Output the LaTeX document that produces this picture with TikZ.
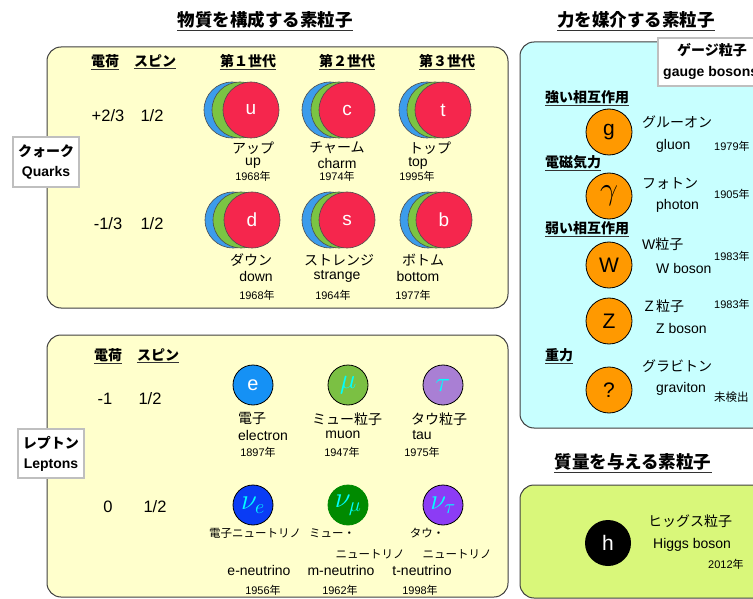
\RequirePackage{fix-cm}
\documentclass[tikz,border=0pt]{standalone}
\usepackage{fontspec}
\setmainfont{Liberation Sans}
\newfontfamily\jpf{Noto Sans CJK JP}
\newcommand\J[1]{{\jpf #1}}
\newcommand\nen{{\jpf 年}}
\definecolor{qfill}{HTML}{FFFFCC}
\definecolor{cfill}{HTML}{C8FFFF}
\definecolor{hfill}{HTML}{D9F77A}
\definecolor{qblue}{HTML}{3C9CEB}
\definecolor{qgreen}{HTML}{7BC443}
\definecolor{qred}{HTML}{F5264D}
\definecolor{orng}{HTML}{FF9900}
\definecolor{ecol}{HTML}{1591F5}
\definecolor{mucol}{HTML}{7BC043}
\definecolor{taucol}{HTML}{A97FD4}
\definecolor{nuecol}{HTML}{0A3CF5}
\definecolor{numucol}{HTML}{008A00}
\definecolor{nutaucol}{HTML}{8C3CF5}
\definecolor{lcyan}{HTML}{00FFFF}
\tikzset{
 t/.style={inner sep=0pt, font=\fontsize{14}{16}\selectfont},
 tn/.style={inner sep=0pt, font=\fontsize{16.5}{18}\selectfont},
 ts/.style={inner sep=0pt, font=\fontsize{11}{13}\selectfont},
 tss/.style={inner sep=0pt, font=\fontsize{11.5}{13}\selectfont},
 tb/.style={inner sep=0pt, font=\fontsize{14}{16}\selectfont\bfseries},
 ttl/.style={inner sep=0pt, font=\fontsize{17.5}{20}\selectfont\bfseries},
 ul/.style={line width=1pt, draw=black!80},
 panel/.style={draw=black!75, line width=1pt, rounded corners=14pt},
 labbox/.style={fill=white, draw=black!25, line width=1.3pt},
 qc/.style={circle, draw=black!70, line width=0.6pt, minimum size=56pt, inner sep=0pt},
 qlet/.style={qc, fill=qred, text=white, font=\fontsize{19}{21}\selectfont},
 lep/.style={circle, draw=black, line width=0.8pt, minimum size=40pt, inner sep=0pt},
 boson/.style={circle, draw=black, line width=0.8pt, fill=orng, minimum size=46pt, inner sep=0pt, font=\fontsize{21}{23}\selectfont},
}
\begin{document}
\begin{tikzpicture}[x=1pt,y=-1pt]
\useasboundingbox (0,0) rectangle (753,599);
% ---------- panels ----------
\draw[panel, fill=qfill] (47,47) rectangle (508,308);
\draw[panel, fill=qfill] (47,335) rectangle (508,597);
\draw[panel, fill=cfill] (520,42) rectangle (790,428);
\draw[panel, fill=hfill] (520,485) rectangle (790,598);
% ---------- titles ----------
\node[ttl] (T1) at (265,20) {\J{物質を構成する素粒子}};
\draw[ul] ([yshift=-2pt]T1.south west) -- ([yshift=-2pt]T1.south east);
\node[ttl] (T2) at (636,20) {\J{力を媒介する素粒子}};
\draw[ul] ([yshift=-2pt]T2.south west) -- ([yshift=-2pt]T2.south east);
\node[ttl] (T3) at (633,462) {\J{質量を与える素粒子}};
\draw[ul] ([yshift=-2pt]T3.south west) -- ([yshift=-2pt]T3.south east);
% ---------- quark headers ----------
\foreach \n/\x/\s in {qh1/105/電荷, qh2/155/スピン, qh3/248/第１世代, qh4/347/第２世代, qh5/447/第３世代}{
  \node[tb] (\n) at (\x,61) {\J{\s}};
  \draw[ul] ([yshift=-1.5pt]\n.south west) -- ([yshift=-1.5pt]\n.south east);
}
\node[tn] (qc1) at (108,116) {+2/3};
\node[tn] (qs1) at (152,116) {1/2};
\node[tn] (qc2) at (108,224) {-1/3};
\node[tn] (qs2) at (152,224) {1/2};
% ---------- quark circles ----------
\foreach \n/\x/\y/\b/\g/\l in {u/251/110/19/11/u, c/347/110/17/8/c, t/443/110/16/8/t,
                              d/252/220/19/11/d, s/347/220/17/8/s, b/444/220/16/8/b}{
  \node[qc, fill=qblue] (\n b) at (\x-\b,\y) {};
  \node[qc, fill=qgreen] (\n g) at (\x-\g,\y) {};
  \node[qlet] (\n) at (\x,\y) {\l};
}
% quark labels
\node[t] (uj) at (253,148) {\J{アップ}};
\node[t] (ue) at (253,163) {up};
\node[ts] (uy) at (253,176) {1968\nen};
\node[t] (cj) at (337,148) {\J{チャーム}};
\node[t] (ce) at (337,163) {charm};
\node[ts] (cy) at (337,176) {1974\nen};
\node[t] (tj) at (430,148) {\J{トップ}};
\node[t] (te) at (418,163) {top};
\node[ts] (ty) at (417,176) {1995\nen};
\node[t] (dj) at (251,260) {\J{ダウン}};
\node[t] (de) at (256,276) {down};
\node[ts] (dy) at (257,295) {1968\nen};
\node[t] (sj) at (339,260) {\J{ストレンジ}};
\node[t] (se) at (337,276) {strange};
\node[ts] (sy) at (333,295) {1964\nen};
\node[t] (bj) at (423,260) {\J{ボトム}};
\node[t] (be) at (418,276) {bottom};
\node[ts] (by) at (413,295) {1977\nen};
% quark label box
\draw[labbox] (13,137) rectangle (79,187);
\node[tb] (ql1) at (46,151) {\J{クォーク}};
\node[tb] (ql2) at (46,173) {Quarks};
% ---------- lepton headers ----------
\foreach \n/\x/\s in {lh1/108/電荷, lh2/158/スピン}{
  \node[tb] (\n) at (\x,355) {\J{\s}};
  \draw[ul] ([yshift=-1.5pt]\n.south west) -- ([yshift=-1.5pt]\n.south east);
}
\node[tn] (lc1) at (105,399) {-1};
\node[tn] (ls1) at (150,399) {1/2};
\node[tn] (lc2) at (108,507) {0};
\node[tn] (ls2) at (155,507) {1/2};
% lepton circles
\node[lep, fill=ecol, text=white, font=\fontsize{20}{22}\selectfont] (e) at (253,385) {e};
\node[lep, fill=mucol, text=lcyan, font=\fontsize{28}{30}\selectfont] (mu) at (348,385) {$\mu$};
\node[lep, fill=taucol, text=lcyan, font=\fontsize{28}{30}\selectfont] (tau) at (443,385) {$\tau$};
\node[lep, fill=nuecol, text=lcyan, font=\fontsize{29}{31}\selectfont] (nue) at (253,505) {$\nu_e$};
\node[lep, fill=numucol, draw=numucol, text=lcyan, font=\fontsize{29}{31}\selectfont] (numu) at (348,505) {$\nu_\mu$};
\node[lep, fill=nutaucol, text=lcyan, font=\fontsize{29}{31}\selectfont] (nutau) at (443,505) {$\nu_\tau$};
% lepton labels
\node[t] (ej) at (252,419) {\J{電子}};
\node[t] (ee) at (263,435) {electron};
\node[ts] (ey) at (258,452) {1897\nen};
\node[t] (muj) at (347,419) {\J{ミュー粒子}};
\node[t] (mue) at (343,435) {muon};
\node[ts] (muy) at (342,452) {1947\nen};
\node[t] (tauj) at (439,419) {\J{タウ粒子}};
\node[t] (taue) at (422,435) {tau};
\node[ts] (tauy) at (422,452) {1975\nen};
\node[tss] (nuej) at (255,533) {\J{電子ニュートリノ}};
\node[tss] (numuj1) at (332,533) {\J{ミュー・}};
\node[tss] (numuj2) at (370,554) {\J{ニュートリノ}};
\node[tss] (nutauj1) at (427,533) {\J{タウ・}};
\node[tss] (nutauj2) at (457,554) {\J{ニュートリノ}};
\node[t] (nuee) at (259,570) {e-neutrino};
\node[t] (numue) at (341,570) {m-neutrino};
\node[t] (nutaue) at (422,570) {t-neutrino};
\node[ts] (nuey) at (263,590) {1956\nen};
\node[ts] (numuy) at (340,590) {1962\nen};
\node[ts] (nutauy) at (420,590) {1998\nen};
% lepton label box
\draw[labbox] (18,429) rectangle (84,478);
\node[tb] (ll1) at (51,443) {\J{レプトン}};
\node[tb] (ll2) at (51,465) {Leptons};
% ---------- gauge bosons ----------
\draw[labbox] (658,38) rectangle (800,86);
\node[tb] (gb1) at (712,50) {\J{ゲージ粒子}};
\node[tb, anchor=west] (gb2) at (663,73) {gauge bosons};
\foreach \n/\y/\s in {f1/97/強い相互作用, f2/162/電磁気力, f3/228/弱い相互作用, f4/355/重力}{
  \node[tb, anchor=west] (\n) at (545,\y) {\J{\s}};
  \draw[ul] ([yshift=-1.5pt]\n.south west) -- ([yshift=-1.5pt]\n.south east);
}
\node[boson] (g) at (609,132) {g};
\node[boson, font=\fontsize{32}{34}\selectfont] (gam) at (609,196) {$\gamma$};
\node[boson] (W) at (609,265) {W};
\node[boson] (Z) at (609,321) {Z};
\node[boson] (G) at (609,390) {?};
\node[t, anchor=west] (gj) at (642,122) {\J{グルーオン}};
\node[t, anchor=west] (ge) at (656,146) {gluon};
\node[ts, anchor=west] (gy) at (714,146) {1979\nen};
\node[t, anchor=west] (gamj) at (642,184) {\J{フォトン}};
\node[t, anchor=west] (game) at (656,206) {photon};
\node[ts, anchor=west] (gamy) at (714,194) {1905\nen};
\node[t, anchor=west] (Wj) at (642,244) {W\J{粒子}};
\node[t, anchor=west] (We) at (656,268) {W boson};
\node[ts, anchor=west] (Wy) at (714,256) {1983\nen};
\node[t, anchor=west] (Zj) at (642,306) {\J{Ｚ粒子}};
\node[t, anchor=west] (Ze) at (656,328) {Z boson};
\node[ts, anchor=west] (Zy) at (714,304) {1983\nen};
\node[t, anchor=west] (Gj) at (642,366) {\J{グラビトン}};
\node[t, anchor=west] (Ge) at (656,389) {graviton};
\node[tss, anchor=west] (Gy) at (714,397) {\J{未検出}};
% ---------- Higgs ----------
\node[circle, fill=black, minimum size=46pt, inner sep=0pt, text=white, font=\fontsize{21}{23}\selectfont] (h) at (608,543) {h};
\node[t, anchor=west] (hj) at (648,521) {\J{ヒッグス粒子}};
\node[t, anchor=west] (he) at (653,545) {Higgs boson};
\node[ts, anchor=west] (hy) at (708,564) {2012\nen};
\end{tikzpicture}
\end{document}
